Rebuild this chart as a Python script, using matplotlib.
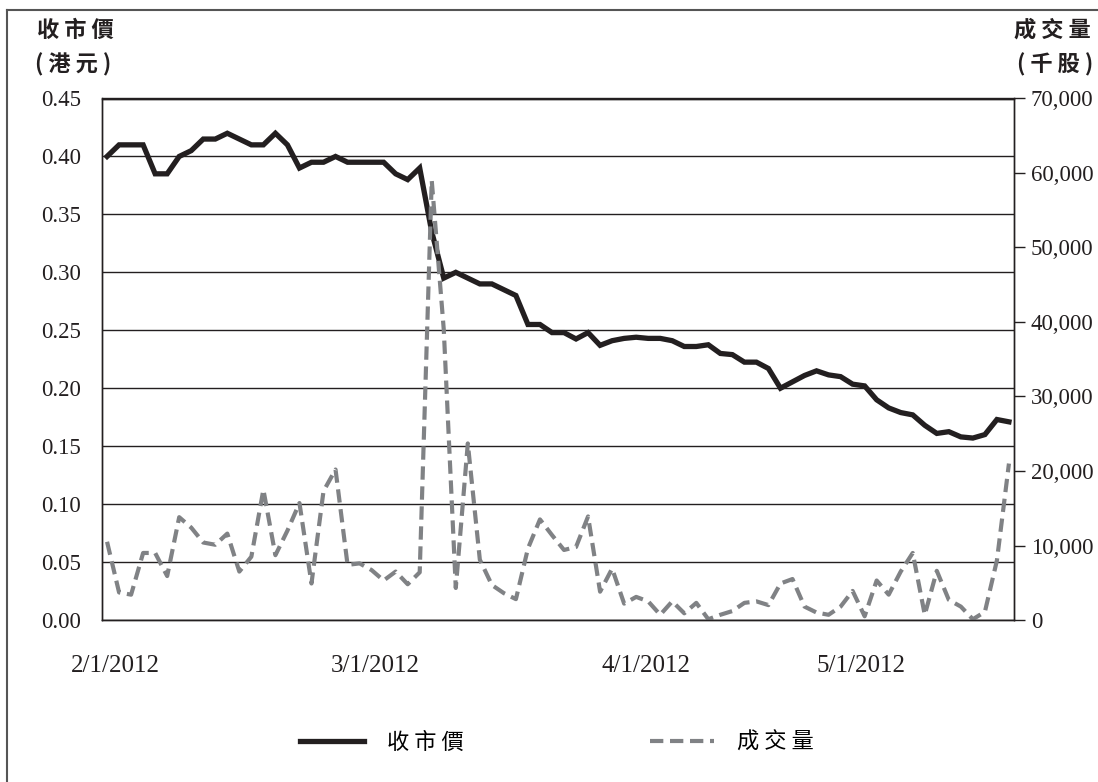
import matplotlib
matplotlib.use('Agg')
import matplotlib.pyplot as plt
from matplotlib.lines import Line2D
from matplotlib.ticker import FuncFormatter
import numpy as np

# ---- data (trading days, 1 Feb 2012 - 22 May 2012) ----
price = [0.40, 0.41, 0.41, 0.41, 0.385, 0.385, 0.40, 0.405, 0.415, 0.415,
         0.42, 0.415, 0.41, 0.41, 0.42, 0.41, 0.39, 0.395, 0.395, 0.40,
         0.395, 0.395, 0.395, 0.395, 0.385, 0.38, 0.39, 0.335, 0.295, 0.30,
         0.295, 0.29, 0.29, 0.285, 0.28, 0.255, 0.255, 0.248, 0.248, 0.2425,
         0.248, 0.237, 0.241, 0.243, 0.244, 0.243, 0.243, 0.241, 0.236, 0.236,
         0.2375, 0.230, 0.229, 0.2225, 0.2225, 0.217, 0.200, 0.2055, 0.211, 0.215,
         0.2115, 0.210, 0.2035, 0.202, 0.190, 0.183, 0.179, 0.177, 0.168, 0.161,
         0.1625, 0.158, 0.157, 0.160, 0.173, 0.171]
volume = [10500, 3700, 3400, 9000, 9000, 5900, 13800, 12400, 10400, 10100,
          11600, 6500, 8500, 17500, 8700, 12000, 15700, 4900, 17300, 20200,
          7400, 7600, 6700, 5300, 6500, 4800, 6400, 59000, 39000, 4300,
          23700, 8100, 4700, 3600, 2800, 9600, 13500, 11400, 9400, 9800,
          13900, 3800, 6900, 2200, 3100, 2500, 700, 2500, 900, 2300,
          100, 700, 1200, 2300, 2500, 2000, 4900, 5500, 1800, 1000,
          700, 1800, 3900, 500, 5300, 3400, 6500, 9000, 700, 6600,
          2700, 1800, 100, 1100, 8000, 21000]
x_labels = ['2/1/2012', '3/1/2012', '4/1/2012', '5/1/2012']
price_ticks = [0.00, 0.05, 0.10, 0.15, 0.20, 0.25, 0.30, 0.35, 0.40, 0.45]
volume_ticks = [0, 10000, 20000, 30000, 40000, 50000, 60000, 70000]

x = np.arange(len(price))
label_pos = [0.66, 22.3, 44.8, 62.7]

serif = ['Liberation Serif', 'DejaVu Serif']
cjk = ['Noto Sans CJK TC', 'DejaVu Sans']
plt.rcParams['font.family'] = serif

black = '#231f20'
grey = '#808285'

fig = plt.figure(figsize=(10.98, 7.82), dpi=100)
ax = fig.add_axes([102 / 1098, 1 - 620 / 782, (1014 - 102) / 1098, (620 - 98.5) / 782])
ax2 = ax.twinx()

ax.plot(x, price, color=black, lw=3.8, solid_joinstyle='miter', label='收市價')
ax2.plot(x, volume, color=grey, lw=3.0, dashes=(3.2, 1.6), label='成交量')

ax.set_xlim(-0.42, 75.42)
ax.set_ylim(0, 0.45)
ax2.set_ylim(0, 70000)

ax.set_yticks(price_ticks)
ax.yaxis.set_major_formatter(FuncFormatter(lambda v, p: f'{v:.2f}'))
ax2.set_yticks(volume_ticks)
ax2.yaxis.set_major_formatter(FuncFormatter(lambda v, p: f'{int(round(v)):,}'))

ax.set_xticks(label_pos)
ax.set_xticklabels(x_labels)

ax.grid(axis='y', color=black, lw=1.0)
ax.set_axisbelow(True)
for a in (ax, ax2):
    for s in a.spines.values():
        s.set_color(black)
        s.set_linewidth(1.0)

ax.tick_params(axis='y', length=0, pad=15, labelsize=16.5, colors=black)
ax.tick_params(axis='x', length=0, pad=25, labelsize=18, colors=black)
ax2.tick_params(axis='y', length=8, width=1.0, direction='out', pad=4, labelsize=16.5, colors=black)

# axis titles
fig.text(37 / 1098, 1 - 19 / 782, '收 市 價', family=cjk, fontweight='bold', fontsize=16,
         ha='left', va='top', color=black)
fig.text(35 / 1098, 1 - 53 / 782, '( 港 元 )', family=cjk, fontweight='bold', fontsize=16,
         ha='left', va='top', color=black)
fig.text(1091 / 1098, 1 - 19 / 782, '成 交 量', family=cjk, fontweight='bold', fontsize=16,
         ha='right', va='top', color=black)
fig.text(1093 / 1098, 1 - 53 / 782, '( 千 股 )', family=cjk, fontweight='bold', fontsize=16,
         ha='right', va='top', color=black)

# legend
h1 = Line2D([], [], color=black, lw=3.8)
h2 = Line2D([], [], color=grey, lw=3.0, dashes=(3.2, 1.6))
fig.legend([h1, h2], ['收 市 價', '成 交 量'], loc='center', bbox_to_anchor=(0.507, 1 - 742 / 782),
           ncol=2, frameon=False, handlelength=2.9, handletextpad=1.0, columnspacing=8.4,
           prop={'family': cjk, 'size': 16})

# outer frame (left and top edges)
fx = 7 / 1098
fy = 1 - 10 / 782
fig.add_artist(Line2D([fx, fx], [0, fy], color='#555555', lw=1.5, transform=fig.transFigure))
fig.add_artist(Line2D([fx, 1], [fy, fy], color='#555555', lw=1.5, transform=fig.transFigure))

fig.savefig('out.png', dpi=100)
